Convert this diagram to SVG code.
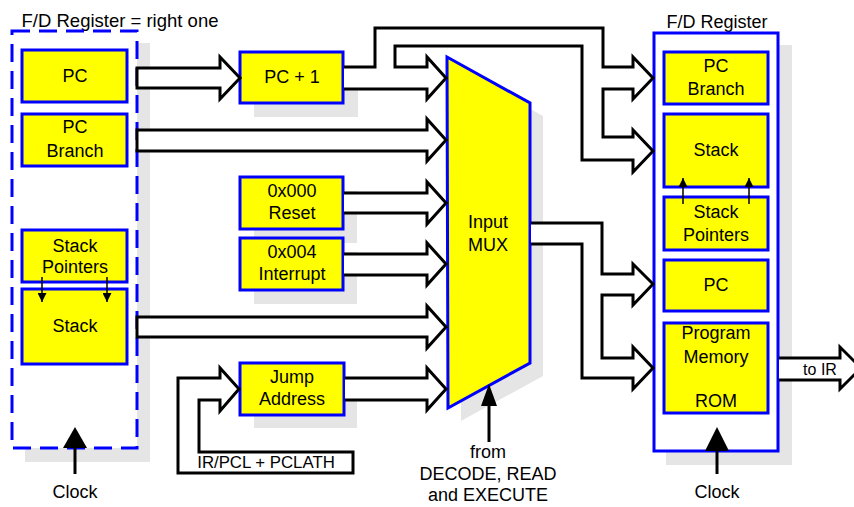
<svg xmlns="http://www.w3.org/2000/svg" width="854" height="507" viewBox="0 0 854 507">
<style>
text{font-family:"Liberation Sans",Arial,sans-serif;font-size:18px;fill:#000;text-anchor:middle}
.box{fill:#ffff00;stroke:#0000ff;stroke-width:3}
.frame{fill:#fff;stroke:#0000ff;stroke-width:3}
.sh{fill:#e5e5e5}
.af{fill:#fff;stroke:none}
.as{fill:none;stroke:#000;stroke-width:3;stroke-linejoin:miter}
.ab{fill:#fff;stroke:#000;stroke-width:3}
.thin{stroke:#000;stroke-width:1.5;fill:none}
.clk{stroke:#000;stroke-width:3;fill:none}
</style>
<defs>
<marker id="ah" viewBox="0 0 10 10" refX="10" refY="5" markerWidth="6" markerHeight="6" markerUnits="strokeWidth" orient="auto"><path d="M0,0 L10,5 L0,10 z" fill="#000"/></marker>
</defs>

<text x="120" y="27" style="font-size:18.5px">F/D Register = right one</text>
<text x="717" y="28">F/D Register</text>

<g id="left-register">
<rect class="sh" x="25" y="43" width="125" height="419"/>
<rect x="12" y="31" width="125" height="417" fill="#fff" stroke="#0000ff" stroke-width="3" stroke-dasharray="18 9"/>
<path d="M75,427 L87,448 L63,448 Z" fill="#000"/>
<line class="clk" x1="75" y1="446" x2="75" y2="474"/>
<text x="75" y="498">Clock</text>
</g>
<g id="left-pc"><rect class="box" x="22" y="50" width="105" height="52"/><text x="75" y="82">PC</text></g>
<g id="left-pcbranch"><rect class="box" x="22" y="114" width="105" height="52"/><text x="75" y="133">PC</text><text x="75" y="157">Branch</text></g>
<g id="left-stackptr"><rect class="box" x="22" y="230" width="105" height="52"/><text x="75" y="252">Stack</text><text x="75" y="273">Pointers</text></g>
<g id="left-stack"><rect class="box" x="22" y="289" width="105" height="75"/><text x="75" y="332">Stack</text></g>

<g id="pc-plus-1"><rect class="sh" x="254" y="66" width="104" height="51"/><rect class="box" x="240" y="52" width="103" height="51"/><text x="292" y="83">PC + 1</text></g>
<g id="reset"><rect class="sh" x="254" y="191" width="103" height="52"/><rect class="box" x="240" y="177" width="103" height="52"/><text x="292" y="197">0x000</text><text x="292" y="219">Reset</text></g>
<g id="interrupt"><rect class="sh" x="254" y="252" width="103" height="52"/><rect class="box" x="240" y="238" width="103" height="52"/><text x="292" y="258">0x004</text><text x="292" y="280">Interrupt</text></g>
<g id="jump"><rect class="sh" x="254" y="377" width="103" height="51"/><rect class="box" x="240" y="363" width="104" height="52"/><text x="292" y="383">Jump</text><text x="292" y="405">Address</text></g>

<g id="mux">
<path class="sh" d="M460,70 L543,116 L543,376 L461,421 Z"/>
<path class="box" d="M447,57 L530,103 L530,363 L448,408 Z"/>
<text x="488" y="228">Input</text><text x="488" y="251">MUX</text>
<path d="M489,384 L497,406 L481,406 Z" fill="#000"/>
<line class="clk" x1="489" y1="404" x2="489" y2="442"/>
<text x="488" y="458">from</text>
<text x="488" y="480">DECODE, READ</text>
<text x="488" y="501">and EXECUTE</text>
</g>

<g id="right-register">
<rect class="sh" x="666" y="45" width="126" height="420"/>
<rect class="frame" x="654" y="33" width="124" height="418"/>
<path d="M717,427 L729,451 L705,451 Z" fill="#000"/>
<line class="clk" x1="717" y1="449" x2="717" y2="474"/>
<text x="717" y="498">Clock</text>
</g>
<g id="right-pcbranch"><rect class="box" x="664" y="52" width="104" height="52"/><text x="716" y="72">PC</text><text x="716" y="95">Branch</text></g>
<g id="right-stack"><rect class="box" x="664" y="114" width="104" height="73"/><text x="716" y="156">Stack</text></g>
<g id="right-stackptr"><rect class="box" x="664" y="197" width="104" height="53"/><text x="716" y="218">Stack</text><text x="716" y="241">Pointers</text></g>
<g id="right-pc"><rect class="box" x="664" y="260" width="104" height="51"/><text x="716" y="291">PC</text></g>
<g id="right-rom"><rect class="box" x="664" y="323" width="104" height="90"/><text x="716" y="339">Program</text><text x="716" y="363">Memory</text><text x="716" y="407">ROM</text></g>

<g id="connectors">
<!-- small pointer arrows -->
<line class="thin" x1="42" y1="277" x2="42" y2="302" marker-end="url(#ah)"/>
<line class="thin" x1="107" y1="277" x2="107" y2="302" marker-end="url(#ah)"/>
<line class="thin" x1="683" y1="204" x2="683" y2="178" marker-end="url(#ah)"/>
<line class="thin" x1="749" y1="204" x2="749" y2="178" marker-end="url(#ah)"/>

<!-- PC -> PC+1 -->
<path class="ab" d="M137,68 L220,68 L220,57 L240,78 L220,99 L220,88 L137,88 Z"/>
<!-- PC Branch -> MUX -->
<path class="ab" d="M137,130 L427,130 L427,119 L446,140 L427,161 L427,151 L137,151 Z"/>
<!-- Stack -> MUX -->
<path class="ab" d="M137,317 L427,317 L427,306 L446,327 L427,348 L427,337 L137,337 Z"/>
<!-- Reset -> MUX -->
<path class="af" d="M344,193 L427,193 L427,182 L446,203 L427,224 L427,213 L344,213 Z"/>
<path class="as" d="M344,193 L427,193 L427,182 L446,203 L427,224 L427,213 L344,213"/>
<!-- Interrupt -> MUX -->
<path class="af" d="M344,254 L427,254 L427,243 L446,264 L427,285 L427,275 L344,275 Z"/>
<path class="as" d="M344,254 L427,254 L427,243 L446,264 L427,285 L427,275 L344,275"/>
<!-- Jump -> MUX -->
<path class="af" d="M345,378 L427,378 L427,368 L446,389 L427,410 L427,400 L345,400 Z"/>
<path class="as" d="M345,378 L427,378 L427,368 L446,389 L427,410 L427,400 L345,400"/>
<!-- IR/PCL feedback -> Jump -->
<path class="ab" d="M220,378 L178,378 L178,473 L353,473 L353,452 L199,452 L199,400 L220,400 L220,411 L239,389 L220,368 Z"/>
<text x="266" y="468" style="font-size:16.8px">IR/PCL + PCLATH</text>
<!-- PC+1 compound -->
<path class="af" d="M344,67 L375,67 L375,28 L603,28 L603,67 L633,67 L633,57 L653,78 L633,99 L633,89 L603,89 L603,137 L633,137 L633,130 L653,151 L633,172 L633,160 L582,160 L582,46 L395,46 L395,67 L427,67 L427,57 L446,78 L427,99 L427,89 L344,89 Z"/>
<path class="as" d="M344,67 L375,67 L375,28 L603,28 L603,67 L633,67 L633,57 L653,78 L633,99 L633,89 L603,89 L603,137 L633,137 L633,130 L653,151 L633,172 L633,160 L582,160 L582,46 L395,46 L395,67 L427,67 L427,57 L446,78 L427,99 L427,89 L344,89"/>
<!-- MUX output compound -->
<path class="af" d="M531,223 L602,223 L602,274 L633,274 L633,264 L653,284 L633,305 L633,295 L602,295 L602,358 L633,358 L633,347 L653,368 L633,389 L633,378 L582,378 L582,244 L531,244 Z"/>
<path class="as" d="M531,223 L602,223 L602,274 L633,274 L633,264 L653,284 L633,305 L633,295 L602,295 L602,358 L633,358 L633,347 L653,368 L633,389 L633,378 L582,378 L582,244 L531,244"/>
<!-- to IR -->
<path class="af" d="M779,358 L840,358 L840,347 L861,368 L840,389 L840,380 L779,380 Z"/>
<path class="as" d="M779,358 L840,358 L840,347 L861,368 L840,389 L840,380 L779,380"/>
<text x="820" y="375" style="font-size:16px">to IR</text>
</g>
</svg>
